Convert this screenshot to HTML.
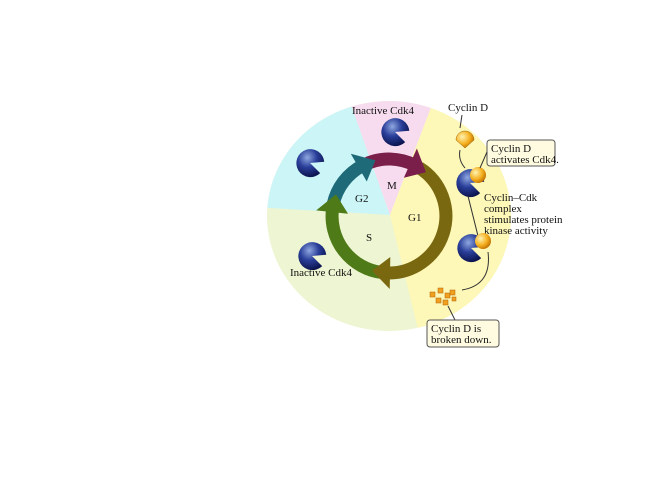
<!DOCTYPE html><html><head><style>body{margin:0;background:#fff}svg{display:block}text{font-family:"Liberation Serif",serif;fill:#111}</style></head><body>
<svg width="660" height="480" viewBox="0 0 660 480">
<defs><radialGradient id="b" cx="35%" cy="35%" r="70%"><stop offset="0" stop-color="#8fa8e0"/><stop offset=".5" stop-color="#2a3f9a"/><stop offset="1" stop-color="#0c1550"/></radialGradient>
<radialGradient id="o" cx="35%" cy="35%" r="70%"><stop offset="0" stop-color="#fff3b0"/><stop offset=".6" stop-color="#f5b020"/><stop offset="1" stop-color="#c07000"/></radialGradient>
<clipPath id="c"><ellipse cx="389" cy="216" rx="122" ry="115"/></clipPath>
<g id="pac"><path d="M0,0 L13,-6 A14,14 0 1,0 13,6 Z" fill="url(#b)"/></g>
<path id="ah" d="M430,214 L462,214 L444,232 Z"/></defs>
<g clip-path="url(#c)">
<rect x="0" y="0" width="660" height="480" fill="#eef5d2"/>
<polygon points="390,215 150,201 150,0 314,0" fill="#ccf5f7"/>
<polygon points="390,215 314,0 472,0" fill="#f7dcef"/>
<polygon points="390,215 472,0 660,0 660,480 455,480" fill="#fdf8b8"/>
</g>
<g fill="none" stroke-width="13">
<path d="M367.6,163.2 A57,57 0 0,1 414,164.8" stroke="#7a1f4a"/>
<path d="M419.2,167.7 A57,57 0 0,1 386,272.9" stroke="#7a6810"/>
<path d="M382.1,272.6 A57,57 0 0,1 332.6,208.1" stroke="#4e7a18"/>
<path d="M333.2,204.1 A57,57 0 0,1 362.3,165.7" stroke="#1e6a78"/>
</g>
<use href="#ah" fill="#7a1f4a" transform="rotate(-66 389 216)"/>
<use href="#ah" fill="#7a6810" transform="rotate(91 389 216)"/>
<use href="#ah" fill="#4e7a18" transform="rotate(186 389 216)"/>
<use href="#ah" fill="#1e6a78" transform="rotate(240 389 216)"/>
<text x="387" y="189" font-size="11">M</text><text x="355" y="202" font-size="11">G2</text><text x="408" y="221" font-size="11">G1</text><text x="366" y="241" font-size="11">S</text>
<use href="#pac" transform="translate(395,132) rotate(20)"/>
<use href="#pac" transform="translate(310,163) rotate(20)"/>
<use href="#pac" transform="translate(312,256) rotate(20)"/>
<text x="352" y="114" font-size="11">Inactive Cdk4</text>
<text x="290" y="276" font-size="11">Inactive Cdk4</text>
<text x="448" y="111" font-size="11">Cyclin D</text>
<path d="M462,115 L460,128" stroke="#333" fill="none"/>
<path d="M456,140 A9,9 0 1,1 474,140 L465,148 Z" fill="url(#o)" stroke="#a06000" stroke-width=".5"/>
<path d="M460,150 Q458,160 465,168" stroke="#333" fill="none"/>
<use href="#pac" transform="translate(470,183) rotate(20)"/>
<circle cx="478" cy="175" r="8" fill="url(#o)"/>
<rect x="487" y="140" width="68" height="26" rx="3" fill="#fffbe0" stroke="#555"/>
<text x="491" y="152" font-size="11">Cyclin D</text><text x="491" y="163" font-size="11">activates Cdk4.</text>
<path d="M487,152 L480,168" stroke="#333"/>
<text x="484" y="201" font-size="11">Cyclin–Cdk</text><text x="484" y="212" font-size="11">complex</text><text x="484" y="223" font-size="11">stimulates protein</text><text x="484" y="234" font-size="11">kinase activity</text>
<path d="M468,196 L478,236" stroke="#333" fill="none"/>
<use href="#pac" transform="translate(471,248) rotate(20)"/>
<circle cx="483" cy="241" r="8" fill="url(#o)"/>
<path d="M488,252 Q492,285 462,290" stroke="#333" fill="none"/>
<g fill="#f0a020" stroke="#b06000" stroke-width=".5"><rect x="430" y="292" width="5" height="5"/><rect x="438" y="288" width="5" height="5"/><rect x="445" y="293" width="5" height="5"/><rect x="436" y="298" width="5" height="5"/><rect x="450" y="290" width="5" height="5"/><rect x="443" y="300" width="5" height="5"/><rect x="452" y="297" width="4" height="4"/></g>
<path d="M448,306 L455,320" stroke="#333"/>
<rect x="427" y="320" width="72" height="27" rx="3" fill="#fffbe0" stroke="#555"/>
<text x="431" y="332" font-size="11">Cyclin D is</text><text x="431" y="343" font-size="11">broken down.</text>
</svg></body></html>
